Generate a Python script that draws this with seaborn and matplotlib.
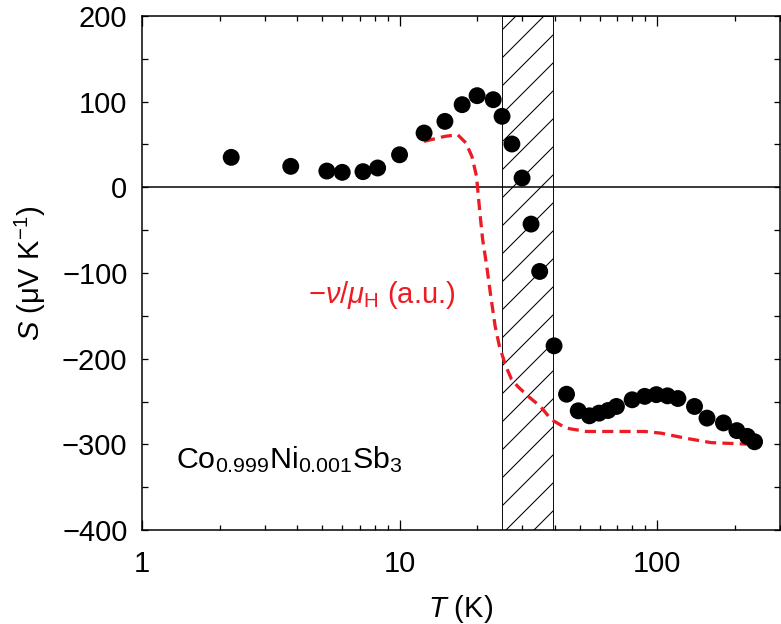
import numpy as np
import pandas as pd
import matplotlib
matplotlib.use("Agg")
import matplotlib.pyplot as plt
import matplotlib.ticker as mticker
import seaborn as sns

# --- data ---
T_S = [2.22, 3.78, 5.22, 5.99, 7.21, 8.22, 10.0, 12.45, 15.0, 17.5, 20.0, 23.1,
       25.0, 27.3, 29.9, 32.4, 35.0, 39.8, 44.5, 49.4, 54.6, 59.5, 64.5, 69.5,
       80.0, 89.5, 99.3, 109.7, 120.4, 139.7, 156.2, 181.0, 204.0, 224.0, 239.0]
S_vals = [35, 24.5, 19, 17.5, 18.3, 22.6, 38, 63.4, 77, 96.5, 107, 102.3,
          82.9, 50.6, 10.9, -42.9, -98.2, -185, -241.5, -260.9, -266.7, -263.6,
          -260.5, -255.8, -248, -244, -242, -243.4, -246.5, -255.8, -269.4,
          -275, -284, -290.7, -297]

T_nu = [12.45, 15.0, 16.8, 18.1, 19.1, 19.9, 20.5, 21.0, 21.8, 22.6, 23.5, 24.4,
        25.8, 27.2, 28.8, 31.6, 35.3, 38.8, 44.2, 53.2, 71.6, 89.5, 103.8,
        129.7, 162.0, 234.0]
nu_vals = [53.7, 59.5, 61.5, 51.8, 36, 12.8, -29, -60, -92, -127, -162, -185,
           -208, -224, -232.6, -244, -256, -271, -281, -285, -285, -285, -287,
           -293, -298, -300]

hatch_lo, hatch_hi = 25.0, 39.5
x_ticks = [1, 10, 100]
y_ticks = [-400, -300, -200, -100, 0, 100, 200]

red = "#ec1c24"
DPI = 84
FS = 25

sns.set_style("ticks")
plt.rcParams["font.family"] = ["Liberation Sans", "DejaVu Sans"]
plt.rcParams["mathtext.fontset"] = "custom"
plt.rcParams["mathtext.rm"] = "Liberation Sans"
plt.rcParams["mathtext.it"] = "Liberation Sans:italic"
plt.rcParams["mathtext.default"] = "regular"
plt.rcParams["hatch.linewidth"] = 0.9
plt.rcParams["axes.linewidth"] = 1.3
plt.rcParams["axes.edgecolor"] = "black"
plt.rcParams["text.color"] = "black"
plt.rcParams["axes.labelcolor"] = "black"
plt.rcParams["xtick.color"] = "black"
plt.rcParams["ytick.color"] = "black"

df_s = pd.DataFrame({"T": T_S, "S": S_vals})
df_nu = pd.DataFrame({"T": T_nu, "nu": nu_vals})

fig = plt.figure(figsize=(781 / DPI, 624 / DPI), dpi=DPI)
ax = fig.add_axes([142 / 781, 1 - 530 / 624, 638 / 781, 514 / 624])

ax.set_xscale("log")
ax.set_xlim(1, 300)
ax.set_ylim(-400, 200)

# hatched region
ax.axvspan(hatch_lo, hatch_hi, facecolor="none", edgecolor="black",
           hatch="/", lw=0.8, zorder=1)
ax.axhline(0, color="black", lw=1.3, zorder=2)

sns.lineplot(data=df_nu, x="T", y="nu", ax=ax, color=red, lw=2.8,
             estimator=None, sort=False, linestyle=(0, (3.4, 1.9)), zorder=3)
sns.scatterplot(data=df_s, x="T", y="S", ax=ax, color="black", s=210,
                edgecolor="none", zorder=4, legend=False)

ax.set_xticks(x_ticks)
ax.set_xticklabels([str(t) for t in x_ticks])
ax.xaxis.set_minor_locator(mticker.LogLocator(base=10, subs=np.arange(2, 10)))
ax.xaxis.set_minor_formatter(mticker.NullFormatter())
ax.set_yticks(y_ticks)
ax.yaxis.set_minor_locator(mticker.MultipleLocator(50))

ax.tick_params(axis="both", which="both", direction="in", top=True, right=True,
               labelsize=FS, width=1.1)
ax.tick_params(axis="x", which="major", length=8.5, pad=17)
ax.tick_params(axis="x", which="minor", length=4.3)
ax.tick_params(axis="y", which="both", length=5, pad=12.5)

ax.set_xlabel(r"$\mathit{T}$ (K)", fontsize=FS, labelpad=13)
ax.set_ylabel("$\\mathit{S}$ (\u03bcV K$^{-1}$)", fontsize=FS, labelpad=12)

ax.text(4.4, -135, r"$-\mathit{\nu}/\mathit{\mu}_{\rm H}$ (a.u.)", color=red,
        fontsize=FS, ha="left", va="baseline")
ax.text(1.355, -328, r"Co$_{0.999}$Ni$_{0.001}$Sb$_3$", color="black",
        fontsize=26, ha="left", va="baseline")

for sp in ax.spines.values():
    sp.set_visible(True)

fig.savefig("out.png", dpi=DPI)
